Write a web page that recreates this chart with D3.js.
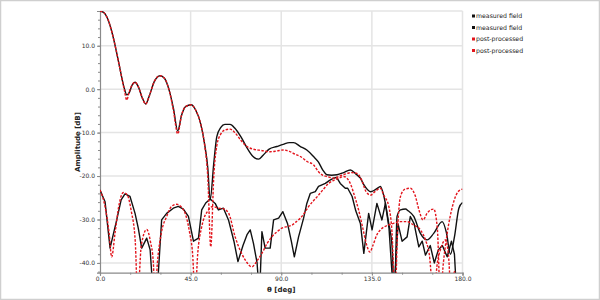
<!DOCTYPE html>
<html><head><meta charset="utf-8">
<script src="https://cdn.jsdelivr.net/npm/d3@7"></script>
<style>
html,body{margin:0;padding:0;background:#fff;}
svg{display:block;}
</style></head>
<body>
<svg id="c" width="600" height="300"></svg>
<script>
// ---------- data ----------
const xTickValues = [0, 45, 90, 135, 180];
const yTickValues = [-40, -30, -20, -10, 0, 10];
const legendLabels = ["measured field", "measured field", "post-processed", "post-processed"];

// measured field, co-polar (black)
const measCoAngle = [0,2,4,6,8,10,12,13.3,14.5,16,17.4,19,21,22.7,24.5,27,29.8,32,34.5,36.5,38.6,40.5,42.5,45.3,47.5,50,52,53.5,54.7,56.5,58,60,62,64.6,67,70,73,76,78.7,81,84,87.8,91,94,96.1,99.5,102.7,106,108.5,110.5,112.7,115,117.7,121,124.3,127,129.3,131,134.3,136.5,138.4,139.2,141,143.4,145,146.2,147.5,149.2,151.7,153,155.8,159.1,162.4,165.7,169.9,172,174,176,178.2,180];
const measCoDb    = [18,17.6,16,13,9,4.5,0.3,-1.3,-0.8,1.0,1.6,0.6,-2,-3.4,-1.5,1.8,3.1,2.5,-0.5,-4.5,-9.6,-6,-4,-3.6,-4.8,-8,-12.8,-18,-25.5,-17,-10.9,-8.8,-8.1,-8.1,-9,-11,-13.5,-15.5,-16.1,-15.2,-13.8,-13.2,-12.7,-12.3,-12.3,-13.2,-14,-15.5,-16.8,-18.5,-19.7,-19.8,-19.7,-19.2,-18.6,-19.5,-20.5,-22,-23.6,-23.2,-22.6,-22.4,-24.7,-31,-36,-48,-29.3,-27.8,-27.6,-28,-29.3,-33.2,-34.7,-33.2,-30.5,-33,-38,-34,-27.4,-26.1];

// measured field, cross-polar (black)
const measXAngle = [0,2.5,5,8.3,10.5,12.4,14.9,17.4,19,20.7,23.2,24.9,26.5,28.2,30.6,33.1,36.4,38.9,41.4,43.9,46.4,48.9,50.5,52.5,54.7,57.2,58.8,61.3,63.8,66.5,68.5,71,73,74.6,76.2,78,79.2,80.4,82,84.5,86.2,88.7,90.8,93.1,95,96.5,98.6,101.1,102.7,104.4,106.9,108.5,111.9,114,116,117.5,119.3,121.8,123,125.2,127,129.3,131,133.4,135.1,137.5,140,141.7,143.5,145.8,148,150,152.5,154.1,156,158.3,160,161.6,164,166,168,170,172.4,174.5,176,177.4,180];
const measXDb    = [-23.2,-25.9,-36.6,-30.1,-25.5,-24.1,-24.7,-28.6,-32,-36.6,-34.3,-37,-48,-48,-30.1,-28.6,-27.4,-27.0,-27.6,-29.3,-35,-34.3,-27.8,-26.2,-25.3,-26.3,-27.8,-27.4,-30.1,-35,-39.7,-36,-33.5,-32.4,-35.5,-40,-48,-32.8,-36.6,-36.6,-30.1,-29.7,-28.2,-30.9,-35,-38.6,-34,-29.7,-26.3,-24.0,-23.6,-22.4,-21.7,-21,-20.5,-20.3,-21.7,-22.8,-22.8,-24.7,-28,-30.9,-37.8,-28.6,-32.4,-26.3,-30.1,-26.3,-32,-48,-31,-35,-34,-29.3,-31,-36.3,-35,-38.2,-36,-40,-37,-36,-38.6,-35,-38,-50,-50];

// post-processed, co-polar (red)
const postCoAngle = [0,2,4,6,8,10,12,13.3,14.5,16,17.4,19,21,22.7,24.5,27,29.8,32,34.5,36.5,38.6,40.5,42.5,45.3,47.5,50,52,53.5,55,56.5,58,60,62,64.6,67,70,73,76,80,84.5,88,91,94,97,99.5,103,106,108.5,110.5,112.7,116,119,122.7,125,127.6,130,132,134.3,136.5,139.2,141,143.4,145,146.5,147.8,149.2,151.5,154.1,156.5,158.5,160.4,162.5,165.7,167.5,169,170.5,172.4,175,178,180];
const postCoDb    = [18,17.6,16,13,9,4.5,0,-2.5,-0.6,1.0,1.6,0.6,-2,-3.4,-1.5,1.8,3.1,2.5,-0.5,-5,-10.3,-6,-4,-3.6,-4.8,-8,-13,-20,-36.3,-20,-13,-10.3,-9.4,-9.2,-10,-11.8,-13.2,-13.8,-14.1,-14.4,-14.2,-14.0,-14.3,-15,-15.5,-16.7,-17.4,-19,-19.8,-20.1,-20.5,-20,-19.4,-19.2,-19.4,-21,-23.5,-24.4,-23.6,-22.8,-24.5,-27,-33,-48,-32,-24.7,-23,-22.8,-24.5,-28,-30.1,-28.5,-27.6,-32,-48,-40,-33.2,-27,-23.5,-23];

// post-processed, cross-polar (red)
const postXAngle = [0,2.5,4.5,5.8,7.5,9.5,11.6,13.5,15.5,17.5,18.7,20.5,23.2,25,26.5,27.3,28.5,30.5,33.1,35.5,38.1,40.5,42.3,44.5,46,47.2,48.5,50.5,53.9,56,58.8,61,63.8,67.1,70,72.1,75.4,78,80.4,83,85.3,88,90.3,93,95.3,97.5,99.5,101.5,103.6,106,108.5,111,113.5,116,118.5,121,124.3,126,128.4,130.5,132.5,134,135.5,137.5,139.2,142,145,149.2,152.5,155.8,159.1,161.6,163.5,165.7,167.5,169,171.5,173,174.5,176,178,180];
const postXDb    = [-23.2,-27,-33,-38.6,-33,-26.5,-23.8,-24.3,-28,-35,-48,-36,-32.3,-35,-40,-48,-40,-33,-29.3,-27,-26.5,-27.2,-28.6,-33,-38,-48,-38,-31.7,-27.8,-27,-27.4,-27.5,-28.5,-34,-37.5,-39.3,-40.9,-39.5,-37.8,-35.5,-34,-32.8,-32,-31.6,-31.3,-30.5,-29.7,-28.5,-27,-25.7,-24.4,-23,-21.7,-21,-20.5,-20.1,-21.7,-24,-27.8,-32,-36,-37.5,-36,-33.5,-32.4,-31.5,-31,-30.5,-30.5,-31.3,-32.4,-34.7,-38,-48,-40,-37,-34.7,-38,-48,-42,-48,-50];

// ---------- drawing ----------
(function(){
const svg = d3.select("#c");
const W = 600, H = 300;
const pL = 100, pR = 462.5, pT = 11, pB = 272.7;

svg.append("rect").attr("x",0.5).attr("y",0.5).attr("width",W-1).attr("height",H-1)
  .attr("fill","#fff").attr("stroke","#cfcfcf").attr("stroke-width",1.5);

const x = d3.scaleLinear().domain([0,180]).range([pL,pR]);
const y = d3.scaleLinear().domain([-42.25,18]).range([pB,pT]);

const grid = svg.append("g").attr("stroke","#e4e4e4").attr("stroke-width",1.5);
xTickValues.filter(d=>d>0).forEach(v=>{
  grid.append("line").attr("x1",x(v)).attr("x2",x(v)).attr("y1",pT).attr("y2",pB);
});
yTickValues.concat([18]).forEach(v=>{
  grid.append("line").attr("x1",pL).attr("x2",pR).attr("y1",y(v)).attr("y2",y(v));
});

svg.append("clipPath").attr("id","pc").append("rect")
  .attr("x",pL).attr("y",pT).attr("width",pR-pL).attr("height",pB-pT);

const fmt = d => d.toFixed(1);

const yMinor = d3.range(-42,18.1,2);
svg.append("g").attr("transform",`translate(${pL},0)`)
  .call(d3.axisLeft(y).tickValues(yMinor).tickSize(2).tickFormat(""))
  .call(g=>g.selectAll("line").attr("stroke","#8a8a8a"))
  .call(g=>g.select(".domain").remove());
const yAx = svg.append("g").attr("transform",`translate(${pL},0)`)
  .call(d3.axisLeft(y).tickValues(yTickValues).tickSize(3).tickPadding(2).tickFormat(fmt));
yAx.select(".domain").attr("stroke","#8a8a8a").attr("stroke-width",1.2);
yAx.selectAll("line").attr("stroke","#8a8a8a");
yAx.selectAll("text").attr("font-family","DejaVu Sans, sans-serif").attr("font-size","6px").attr("fill","#333");

const xMinor = d3.range(0,180.1,15);
svg.append("g").attr("transform",`translate(0,${pB})`)
  .call(d3.axisBottom(x).tickValues(xMinor).tickSize(2).tickFormat(""))
  .call(g=>g.selectAll("line").attr("stroke","#8a8a8a"))
  .call(g=>g.select(".domain").remove());
const xAx = svg.append("g").attr("transform",`translate(0,${pB})`)
  .call(d3.axisBottom(x).tickValues(xTickValues).tickSize(3).tickPadding(1.5).tickFormat(fmt));
xAx.select(".domain").attr("stroke","#8a8a8a").attr("stroke-width",1.2);
xAx.selectAll("line").attr("stroke","#8a8a8a");
xAx.selectAll("text").attr("font-family","DejaVu Sans, sans-serif").attr("font-size","6px").attr("fill","#333");

svg.append("text").attr("x",x(90)).attr("y",291.5).attr("text-anchor","middle")
  .attr("font-family","DejaVu Sans, sans-serif").attr("font-weight","bold").attr("font-size","7px").attr("fill","#222")
  .text("θ [deg]");
svg.append("text").attr("transform",`translate(80,142) rotate(-90)`).attr("text-anchor","middle")
  .attr("font-family","DejaVu Sans, sans-serif").attr("font-weight","bold").attr("font-size","7px").attr("fill","#222")
  .text("Amplitude [dB]");

const plot = svg.append("g").attr("clip-path","url(#pc)");
function draw(ang, db, color, dashed, curve){
  const data = ang.map((a,i)=>[a, db[i]]);
  const line = d3.line().x(d=>x(d[0])).y(d=>y(d[1])).curve(curve);
  plot.append("path").datum(data).attr("d",line).attr("fill","none")
    .attr("stroke",color).attr("stroke-width",1.4)
    .attr("stroke-dasharray",dashed?"2.5,1.5":null)
    .attr("stroke-linejoin","round");
}
draw(measCoAngle, measCoDb, "#111", false, d3.curveMonotoneX);
draw(measXAngle, measXDb, "#111", false, d3.curveLinear);
draw(postCoAngle, postCoDb, "#e3141c", true, d3.curveMonotoneX);
draw(postXAngle, postXDb, "#e3141c", true, d3.curveMonotoneX);

const legColors = ["#111","#111","#e3141c","#e3141c"];
const leg = svg.append("g");
legendLabels.forEach((t,i)=>{
  const yy = 16 + i*11.5;
  leg.append("rect").attr("x",472).attr("y",yy-1.5).attr("width",3).attr("height",3).attr("fill",legColors[i]);
  leg.append("text").attr("x",476).attr("y",yy+2.2)
    .attr("font-family","DejaVu Sans, sans-serif").attr("font-size","6.2px").attr("fill","#222").text(t);
});
})();
</script>
</body></html>
